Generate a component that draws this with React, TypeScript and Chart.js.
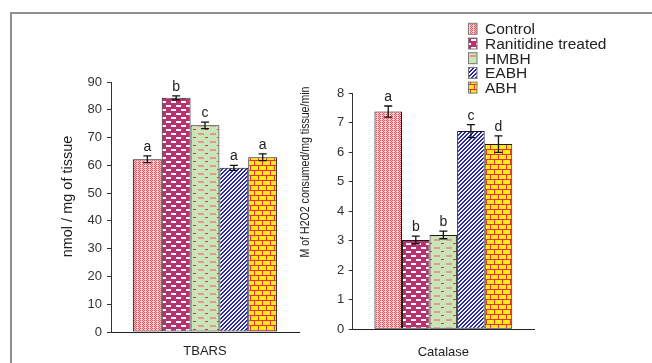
import React, { useEffect, useRef } from "react";
import { Chart, registerables } from "chart.js";

Chart.register(...registerables);

const groups = ["Control", "Ranitidine treated", "HMBH", "EABH", "ABH"];
const tbarsCategory = ["TBARS"];
const catalaseCategory = ["Catalase"];
const tbarsValues = [62.2, 84.3, 74.4, 59.1, 62.9];
const tbarsErrors = [1.2, 0.7, 1.15, 0.9, 1.2];
const tbarsLetters = ["a", "b", "c", "a", "a"];
const catalaseValues = [7.38, 3.03, 3.2, 6.72, 6.28];
const catalaseErrors = [0.19, 0.13, 0.13, 0.22, 0.28];
const catalaseLetters = ["a", "b", "b", "c", "d"];
const tbarsAxis = [0, 90, 10];
const catalaseAxis = [0, 8, 1];
const tbarsTitle = "nmol / mg of tissue";
const catalaseTitle = "M of H2O2 consumed/mg tissue/min";

const FONT = '"Liberation Sans", Arial, sans-serif';

function makePattern(kind: number): CanvasPattern {
  const c = document.createElement("canvas");
  const ctx = c.getContext("2d")!;
  if (kind === 0) {
    c.width = 4; c.height = 4;
    ctx.fillStyle = "#fbd2d2"; ctx.fillRect(0, 0, 4, 4);
    ctx.fillStyle = "#ec4a58";
    for (let x = 0; x < 3; x++) for (let y = 0; y < 4; y++) if ((x + y) % 2 === 0) ctx.fillRect(x, y, 1, 1);
  } else if (kind === 1) {
    c.width = 10; c.height = 8;
    ctx.fillStyle = "#b7326e"; ctx.fillRect(0, 0, 10, 8);
    ctx.fillStyle = "#ffffff";
    ctx.fillRect(1, 1, 5, 2);
    ctx.fillRect(6, 5, 4, 2); ctx.fillRect(0, 5, 1, 2);
  } else if (kind === 2) {
    c.width = 12; c.height = 8;
    ctx.fillStyle = "#c7e5b6"; ctx.fillRect(0, 0, 12, 8);
    ctx.fillStyle = "#e4988a"; ctx.fillRect(0, 1, 6, 2);
    ctx.fillStyle = "#e8303a"; ctx.fillRect(7, 5, 3, 1);
  } else if (kind === 3) {
    c.width = 4; c.height = 4;
    ctx.fillStyle = "#f4f4ff"; ctx.fillRect(0, 0, 4, 4);
    ctx.fillStyle = "#2a2a9c";
    for (let x = 0; x < 4; x++) for (let y = 0; y < 4; y++) if ((x + y) % 4 < 2) ctx.fillRect(x, y, 1, 1);
  } else {
    c.width = 8; c.height = 10;
    ctx.fillStyle = "#ffe81c"; ctx.fillRect(0, 0, 8, 10);
    ctx.fillStyle = "#e4352a";
    ctx.fillRect(0, 0, 8, 1); ctx.fillRect(0, 5, 8, 1);
    ctx.fillRect(0, 0, 1, 5); ctx.fillRect(4, 5, 1, 5);
  }
  return ctx.createPattern(c, "repeat")!;
}

function errorPlugin(errors: number[], letters: string[]) {
  return {
    id: "errorBars",
    afterDatasetsDraw(chart: any) {
      const ctx = chart.ctx;
      const y = chart.scales.y;
      chart.data.datasets.forEach((ds: any, i: number) => {
        const meta = chart.getDatasetMeta(i);
        meta.data.forEach((bar: any, j: number) => {
          const v = ds.data[j] as number;
          const e = errors[i];
          const x = bar.x;
          const yTop = y.getPixelForValue(v + e);
          const yBot = y.getPixelForValue(v - e);
          ctx.save();
          ctx.strokeStyle = "#111";
          ctx.lineWidth = 1.3;
          ctx.beginPath();
          ctx.moveTo(x, yTop); ctx.lineTo(x, yBot);
          ctx.moveTo(x - 4, yTop); ctx.lineTo(x + 4, yTop);
          ctx.moveTo(x - 4, yBot); ctx.lineTo(x + 4, yBot);
          ctx.stroke();
          ctx.fillStyle = "#222";
          ctx.font = "14px " + FONT;
          ctx.textAlign = "center";
          ctx.textBaseline = "alphabetic";
          ctx.fillText(letters[i], x, yTop - 5);
          ctx.restore();
        });
      });
    },
  };
}

function titlePlugin(text: string, size: number, cx: number, cy: number, squeeze: number) {
  return {
    id: "yTitle",
    afterDraw(chart: any) {
      const ctx = chart.ctx;
      ctx.save();
      ctx.translate(cx, cy);
      ctx.rotate(-Math.PI / 2);
      ctx.scale(squeeze, 1);
      ctx.fillStyle = "#222";
      ctx.font = size + "px " + FONT;
      ctx.textAlign = "center";
      ctx.textBaseline = "middle";
      ctx.fillText(text, 0, 0);
      ctx.restore();
    },
  };
}

function legendPlugin(patterns: CanvasPattern[]) {
  return {
    id: "sideLegend",
    afterDraw(chart: any) {
      const ctx = chart.ctx;
      ctx.save();
      chart.data.datasets.forEach((ds: any, i: number) => {
        const top = 9.3 + i * 14.7;
        ctx.fillStyle = patterns[i];
        ctx.fillRect(178.5, top, 8.5, 11);
        ctx.strokeStyle = "#7a7a7a";
        ctx.lineWidth = 1;
        ctx.strokeRect(178.5, top, 8.5, 11);
        ctx.fillStyle = "#222";
        ctx.font = "15.5px " + FONT;
        ctx.textAlign = "left";
        ctx.textBaseline = "alphabetic";
        ctx.fillText(ds.label, 195, top + 11);
      });
      ctx.restore();
    },
  };
}

function buildConfig(
  category: string[], values: number[], axis: number[], patterns: CanvasPattern[],
  geom: { padTop: number; padRight: number; yWidth: number; xHeight: number; labelPad: number; yPad: number; catPct: number },
  plugins: any[]
): any {
  return {
    type: "bar",
    data: {
      labels: category,
      datasets: groups.map((g, i) => ({
        label: g,
        data: [values[i]],
        backgroundColor: patterns[i],
        borderColor: "#1a1a1a",
        borderWidth: 1,
        borderSkipped: false,
        categoryPercentage: geom.catPct,
        barPercentage: 1,
      })),
    },
    options: {
      responsive: false,
      animation: false,
      layout: { padding: { top: geom.padTop, right: geom.padRight, left: 0, bottom: 0 } },
      plugins: { legend: { display: false }, tooltip: { enabled: false } },
      scales: {
        x: {
          grid: { display: false, drawTicks: false },
          border: { display: true, color: "#222", width: 1 },
          ticks: { color: "#222", font: { size: 13, family: FONT }, padding: geom.labelPad },
          afterFit: (s: any) => { s.height = geom.xHeight; },
        },
        y: {
          min: axis[0],
          max: axis[1],
          grid: { drawOnChartArea: false, drawTicks: true, tickLength: 4, color: "#333" },
          border: { display: true, color: "#333", width: 1 },
          ticks: { stepSize: axis[2], color: "#333", font: { size: 13, family: FONT }, padding: geom.yPad },
          afterFit: (s: any) => { s.width = geom.yWidth; },
        },
      },
    },
    plugins,
  };
}

export default function App() {
  const leftRef = useRef<HTMLCanvasElement>(null);
  const rightRef = useRef<HTMLCanvasElement>(null);

  useEffect(() => {
    const patterns = [0, 1, 2, 3, 4].map(makePattern);
    const left = new Chart(
      leftRef.current!,
      buildConfig(tbarsCategory, tbarsValues, tbarsAxis, patterns,
        { padTop: 22, padRight: 11, yWidth: 81, xHeight: 31, labelPad: 12, yPad: 5, catPct: 0.767 },
        [errorPlugin(tbarsErrors, tbarsLetters), titlePlugin(tbarsTitle, 14.5, 38, 136.5, 1)])
    );
    const right = new Chart(
      rightRef.current!,
      buildConfig(catalaseCategory, catalaseValues, catalaseAxis, patterns,
        { padTop: 79.3, padRight: 106, yWidth: 62.7, xHeight: 33.7, labelPad: 15, yPad: 4.5, catPct: 0.76 },
        [errorPlugin(catalaseErrors, catalaseLetters), titlePlugin(catalaseTitle, 12, 16, 158, 0.88), legendPlugin(patterns)])
    );
    return () => { left.destroy(); right.destroy(); };
  }, []);

  return (
    <div style={{ position: "fixed", left: 0, top: 0, width: 652, height: 363, overflow: "hidden", background: "#fff" }}>
      <div style={{ position: "absolute", left: 10, top: 12, width: 720, height: 420, borderTop: "2px solid #8f8f8f", borderLeft: "2px solid #8f8f8f" }} />
      <div style={{ position: "absolute", left: 30, top: 60 }}>
        <canvas ref={leftRef} width={280} height={303} />
      </div>
      <div style={{ position: "absolute", left: 290, top: 14 }}>
        <canvas ref={rightRef} width={350} height={349} />
      </div>
    </div>
  );
}
